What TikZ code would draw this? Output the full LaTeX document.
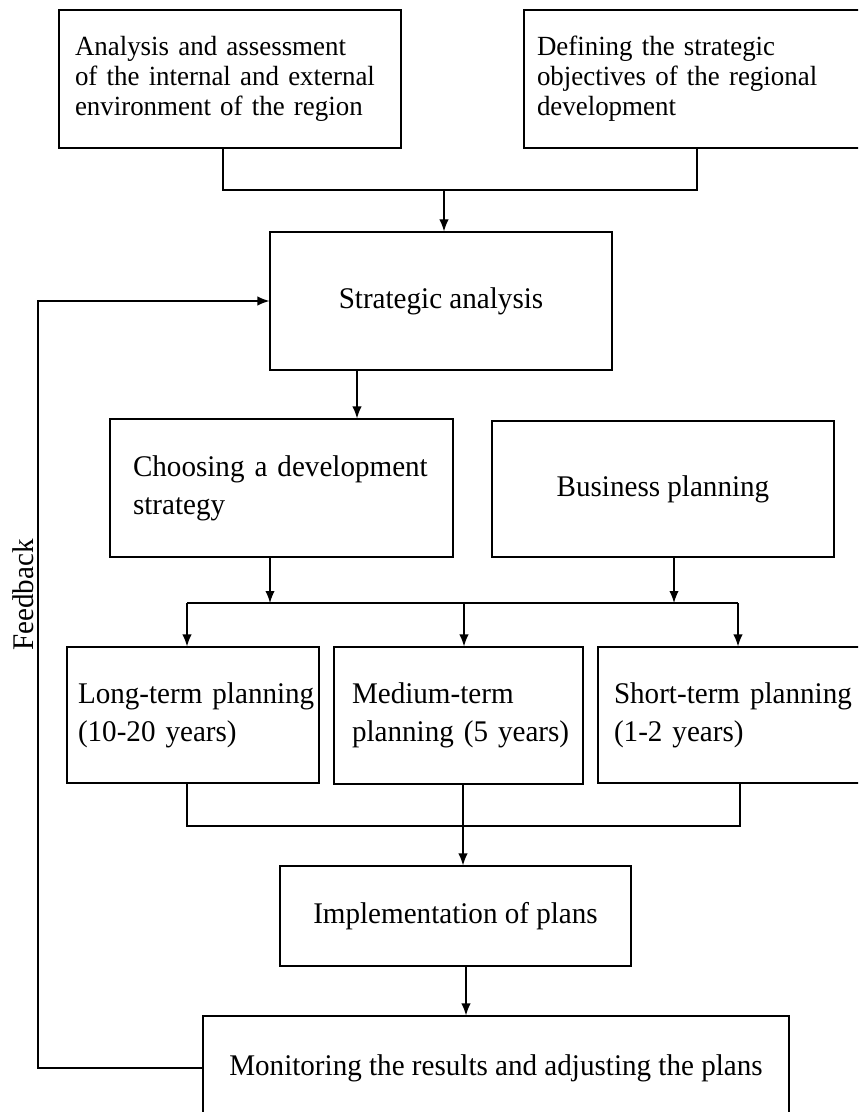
\documentclass[tikz,border=0pt]{standalone}
\usepackage{fontspec}
\setmainfont{Liberation Serif}[FakeStretch=0.97]
\usetikzlibrary{arrows.meta}
\begin{document}
\begin{tikzpicture}[x=0.75pt,y=-0.75pt,line width=0.9pt,
  box/.style={draw, inner sep=0pt, font=\fontsize{22.5}{28.5}\selectfont},
  smallbox/.style={draw, inner sep=0pt, font=\fontsize{20.8}{22.5}\selectfont},
  arr/.style={-{Latex[length=9pt,width=7pt]}}]
\useasboundingbox (0,0) rectangle (858,1112);
\clip (0,0) rectangle (858,1112);

% top boxes
\node[smallbox, minimum width=256.5pt, minimum height=103.5pt, inner xsep=12pt, text width=232.5pt, align=left] (ana) at (230,79)
  {\mbox{Analysis and assessment}\\\mbox{of the internal and external}\\\mbox{environment of the region}};
\node[smallbox, minimum width=259.5pt, minimum height=103.5pt, inner xsep=9.75pt, text width=240pt, align=left] (def) at (697,79)
  {\mbox{Defining the strategic}\\\mbox{objectives of the regional}\\\mbox{development}};

\node[box, minimum width=256.5pt, minimum height=103.5pt] (sa) at (441,301) {Strategic analysis};

\node[box, minimum width=257.25pt, minimum height=103.5pt, inner xsep=17.25pt, text width=222.75pt, align=left] (cho) at (281.5,488)
  {\mbox{Choosing a development}\\\mbox{strategy}};
\node[box, minimum width=256.5pt, minimum height=102pt] (bus) at (663,489) {Business planning};

\node[box, minimum width=189pt, minimum height=102pt, inner xsep=8.25pt, text width=172.5pt, align=left] (lt) at (193,715)
  {\mbox{Long-term planning}\\\mbox{(10-20 years)}};
\node[box, minimum width=186.75pt, minimum height=102.75pt, inner xsep=13.5pt, text width=159.75pt, align=left] (mt) at (458.5,715.5)
  {\mbox{Medium-term}\\\mbox{planning (5 years)}};
\node[box, minimum width=204pt, minimum height=102pt, inner xsep=12pt, text width=180pt, align=left] (st) at (734,715)
  {\mbox{Short-term planning}\\\mbox{(1-2 years)}};

\node[box, minimum width=263.25pt, minimum height=75pt] (imp) at (455.5,916) {Implementation of plans};
\node[box, minimum width=439.5pt, minimum height=78pt] (mon) at (496,1068) {Monitoring the results and adjusting the plans};

\node[rotate=90, font=\fontsize{22.5}{28.5}\selectfont, inner sep=0pt] (fb) at (23,595) {Feedback};

% connectors
\coordinate (a1) at (223,190);
\coordinate (j1) at (444,190);
\draw (ana.south -| a1) -- (a1) -- (a1 -| def.south) -- (def.south);
\draw[arr] (j1) -- (j1 |- sa.north);

\coordinate (s1) at (357,0);
\draw[arr] (sa.south -| s1) -- (cho.north -| s1);

\coordinate (d0) at (187,603);
\coordinate (d1) at (270,603);
\coordinate (dm) at (464,603);
\coordinate (d2) at (674,603);
\coordinate (d3) at (738,603);
\draw[arr] (cho.south -| d1) -- (d1);
\draw[arr] (bus.south -| d2) -- (d2);
\draw (d0) -- (d3);
\draw[arr] (d0) -- (lt.north -| d0);
\draw[arr] (dm) -- (mt.north -| dm);
\draw[arr] (d3) -- (st.north -| d3);

\coordinate (m0) at (187,826);
\coordinate (m1) at (463,826);
\coordinate (m3) at (740,826);
\draw (lt.south -| m0) -- (m0) -- (m3) -- (st.south -| m3);
\draw (mt.south -| m1) -- (m1);
\draw[arr] (m1) -- (imp.north -| m1);

\coordinate (i1) at (466,0);
\draw[arr] (imp.south -| i1) -- (mon.north -| i1);

\coordinate (f1) at (38,0);
\draw[arr] (mon.west) -- (mon.west -| f1) -- (sa.west -| f1) -- (sa.west);
\end{tikzpicture}
\end{document}
